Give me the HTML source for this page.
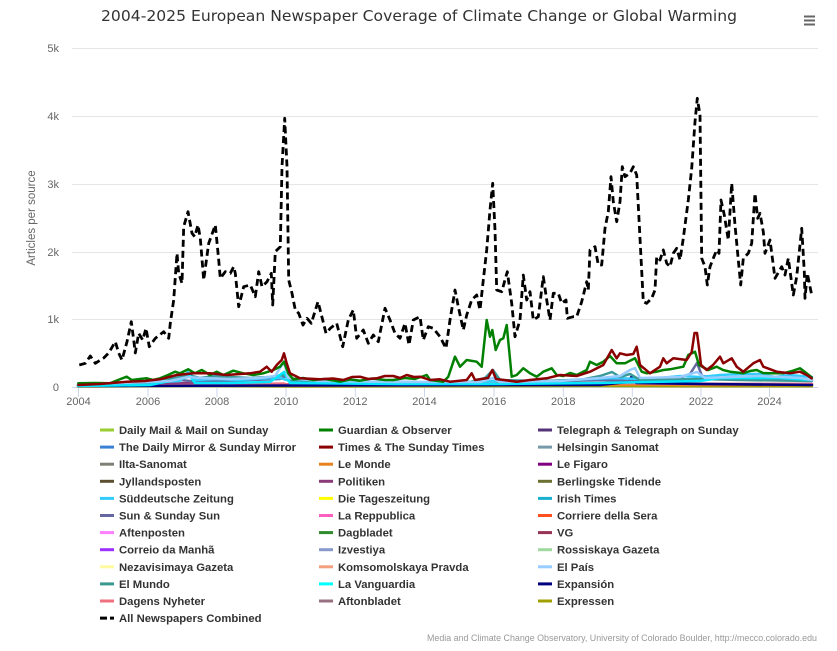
<!DOCTYPE html>
<html><head><meta charset="utf-8">
<style>
html,body{margin:0;padding:0;background:#fff;}
svg{display:block;}
.lg{font-family:"Liberation Sans",Arial,sans-serif;font-weight:bold;font-size:11.3px;fill:#333;}
.ax{font-family:"Liberation Sans",Arial,sans-serif;font-size:11px;fill:#666;}
</style></head>
<body>
<svg width="837" height="651" viewBox="0 0 837 651" xmlns="http://www.w3.org/2000/svg">
<rect width="837" height="651" fill="#fff"/>
<text x="101" y="21" textLength="636" lengthAdjust="spacingAndGlyphs" style="font-family:'DejaVu Sans','Liberation Sans',sans-serif;font-size:15px;fill:#333">2004-2025 European Newspaper Coverage of Climate Change or Global Warming</text>
<g fill="#666"><rect x="804" y="15.5" width="11" height="2"/><rect x="804" y="19.5" width="11" height="2"/><rect x="804" y="23.5" width="11" height="2"/></g>
<!-- grid -->
<g stroke="#e6e6e6" stroke-width="1">
<line x1="72" y1="48.5" x2="818" y2="48.5"/>
<line x1="72" y1="116.5" x2="818" y2="116.5"/>
<line x1="72" y1="184.5" x2="818" y2="184.5"/>
<line x1="72" y1="252.5" x2="818" y2="252.5"/>
<line x1="72" y1="319.5" x2="818" y2="319.5"/>
</g>
<g class="ax" text-anchor="end">
<text x="59" y="52">5k</text><text x="59" y="120">4k</text><text x="59" y="188">3k</text><text x="59" y="256">2k</text><text x="59" y="323">1k</text><text x="59" y="391">0</text>
</g>
<text class="ax" transform="translate(35,218) rotate(-90)" text-anchor="middle" style="font-size:11.5px">Articles per source</text>
<g stroke="#ccd6eb" stroke-width="1">
<line x1="72" y1="387.5" x2="818" y2="387.5"/>
<line x1="78.5" y1="387.5" x2="78.5" y2="397"/><line x1="148" y1="387.5" x2="148" y2="397"/><line x1="217" y1="387.5" x2="217" y2="397"/><line x1="286" y1="387.5" x2="286" y2="397"/><line x1="355.3" y1="387.5" x2="355.3" y2="397"/><line x1="424.5" y1="387.5" x2="424.5" y2="397"/><line x1="494" y1="387.5" x2="494" y2="397"/><line x1="563.3" y1="387.5" x2="563.3" y2="397"/><line x1="632.3" y1="387.5" x2="632.3" y2="397"/><line x1="701" y1="387.5" x2="701" y2="397"/><line x1="769.5" y1="387.5" x2="769.5" y2="397"/>
</g>
<g class="ax" text-anchor="middle">
<text x="78.5" y="405">2004</text><text x="148" y="405">2006</text><text x="217" y="405">2008</text><text x="286" y="405">2010</text><text x="355.3" y="405">2012</text><text x="424.5" y="405">2014</text><text x="494" y="405">2016</text><text x="563.3" y="405">2018</text><text x="632.3" y="405">2020</text><text x="701" y="405">2022</text><text x="769.5" y="405">2024</text>
</g>
<!-- minor series -->
<g fill="none" stroke-width="2.5" stroke-linejoin="round" stroke-linecap="round">
<polyline stroke="#a0a000" points="78,386.5 200,386 300,386.5 450,386.3 600,386 700,386.3 812,386.3"/>
<polyline stroke="#e8821e" points="78,386 150,385.5 200,385 260,384.5 300,385.5 420,385.5 500,385 600,384.5 700,385 812,385"/>
<polyline stroke="#8b3a7a" points="78,385.5 140,384.5 190,383 240,384 300,384.5 400,385 500,384 560,384 620,383 680,383.5 740,384 812,384"/>
<polyline stroke="#f07080" points="78,386 200,385 284,383.5 290,385.5 490,384 600,383 700,384 812,384"/>
<polyline stroke="#000080" points="78,386 300,385.5 600,385 628,382 632,376 636,383 700,384 812,385"/>
<polyline stroke="#6666a0" points="78,385 110,384 150,383 165,381 180,380 200,382 220,381 250,380 280,379 286,376 295,382 330,383 370,382 400,382 450,382.5 500,381 550,381.5 600,380 630,381 660,378 675,380 690,374 697,363 702,376 720,378 740,379 770,379.5 812,380"/>
<polyline stroke="#33ccff" points="78,385 130,384 160,382 180,381 188,372 196,380 215,379 240,380 260,378.5 280,378 290,381 330,382.5 400,382 450,382.5 500,381 540,381.5 590,379 615,378 640,379 660,378 680,376 700,377 720,375 740,374 760,374 775,377 790,375 812,377"/>
<polyline stroke="#3a9a9a" points="78,385 120,384 150,382 175,378 188,375 200,378 215,376 230,377 250,378 270,377 284,375 290,380 340,382 400,383 470,382 485,378 493,370 500,380 540,381 580,380 600,376 612,372 620,377 630,374 640,380 700,379 740,380 812,381"/>
<polyline stroke="#00e8ff" points="78,386 150,385 185,378 190,376 195,383 230,383 270,382 284,372 290,383 400,384 500,384 600,383 700,381 720,378 780,378 812,380"/>
<polyline stroke="#99ccff" points="78,384 120,383 170,381 188,377 200,378 230,379 260,378 275,376 284,362 288,378 320,381 400,382 480,382 493,378 500,382 560,381 600,378 620,376 630,370 635,368 640,378 680,377 697,372 705,378 760,376 800,378 812,380"/>
<polyline stroke="#008000" points="78.3,383.3 95,383 110,383.3 118,380 126.7,376.7 131.7,380 140,379 146.7,378.3 153,380 160,378.3 168,375 175,371.7 180,373.3 188.3,369.3 195,373.3 201.7,370 210,375 216.7,371.7 223.3,375 233.3,370.7 243.3,373.3 253.3,375 263.3,373.3 273.3,370 280,366.7 284,361.7 288.3,373.3 293.3,379.3 303,378 313.3,380 325,379 340,381.7 350,379.5 360,380.7 372,378.5 385,380 393.3,380 405,378 415,379 426.7,375 430,380 443.3,381.7 448.3,376.7 455,356.7 460,366.7 466.7,360 476.7,361.7 481.7,366.7 486.7,320 490,336.7 492.3,330 495.7,350 500,340 503.3,338.3 506.7,325 511.7,376.7 516.7,375 523.3,368.3 530,373.3 536.7,376.7 543.3,371.7 551.7,368.3 556.7,375 563.3,376 570,373 576.7,375 586.7,370 590,361.7 596.7,365 603.3,361.7 610,356 616.7,363.3 625,363.3 630,360.7 635,358.3 641.7,371.7 646.7,373.3 656.7,371.7 663.3,370 670,369.3 683.3,366.7 688.3,355 695,351.7 699,365 708.3,370 716.7,366.7 723,370 730,371.7 743.3,373.3 750,371 756.7,370 763,373 770,373.3 783.3,373.3 792,371 800,368.3 806.7,373.3 811.7,377.3"/>
<polyline stroke="#8b0000" points="78.3,385 100,384 126.7,381.7 145,381 160,379.3 176.7,375 193.3,373.3 210,373.3 226.7,375 240,374 250,373.3 260,371.7 266.7,366.7 271.7,371.7 276.7,365 281.7,360 284,353.3 286.7,363.3 290,373.3 300,378.3 320,379.3 333,378.5 343.3,380 352,377 360,376.7 368,379 376.7,378.3 385,376 393.3,376 400,378 406.7,375 414,377 420,376.7 430,380 440,379.3 450,381.7 466.7,380 471.7,373.3 475,380 488,378 492.3,370 496,379 516.7,381.7 530,380 546.7,378.3 560,375 576.7,376 590,371.7 603.3,365 611.7,350 616.7,358.3 620,353.3 626.7,355 633.3,354 636.7,346.7 640,365 650,373.3 660,366.7 663.3,358.3 666.7,363.3 673.3,358.3 686.7,360 691.7,352 694.5,333 697,333 699,348 701,365 706.7,370 713,365 720,356.7 723.3,363.3 731.7,358.3 736.7,366.7 743.3,371.7 753.3,363.3 760,360 763.3,366.7 776.7,371.7 790,373.3 800,371.7 806.7,375 811.7,378.3"/>
</g>
<!-- combined -->
<polyline fill="none" stroke="#000" stroke-width="2.8" stroke-dasharray="7,4" stroke-linejoin="round" points="79.3,365 85.3,363.3 90.3,356 95.3,363.3 103.7,358 108.7,353 115.3,341.7 118.7,353 122,360 127,341.7 131.3,321.7 133.7,340 135.3,353 138.7,333.3 142.7,340 146,328.3 149.3,346.7 155.3,338.3 163.7,331.7 168.7,338.3 170.3,323.3 173.7,300 177,253.3 178.7,273.3 182,283.3 183.7,226.7 188,211.7 192,233.3 194.7,236.7 198,225 200.3,238.3 203.7,280 208.7,243.3 215.3,225 218.7,260 220.3,278.3 225.3,271.7 230.3,273.3 233.7,266.7 235.3,273.3 238.7,306.7 243.7,286.7 250.3,285 255.3,296.7 258.7,271.7 262,286.7 267,281.7 271.3,273.3 272.7,305 275.3,251.7 280.3,246.7 282,166.7 284.7,118.3 287,166.7 288.7,280 292,293.3 295.3,310 298.7,313.3 303,325 307,318.3 311.3,323.3 318,301.7 322.7,320 326,333.3 330.3,328.3 336.7,323.3 342.7,346.7 348.3,320 353.3,310 356.7,338.3 363.3,330 368.3,343.3 373.3,335 378.3,341.7 385,308.3 390,320 395,333.3 400,338.3 405,323.3 409,345 413.3,320 420,316.7 423.3,340 428.3,326.7 433.3,328.3 440,336.7 446,348.3 450,320 455,290 458.3,306.7 463.3,330 466.7,315 471.7,300 476.7,295 480,310 483.3,280 486.7,250 490,210 492.7,183.3 495,230 496.7,290 501.7,291.7 507.3,271.7 511.7,303.3 515,336.7 520,320 523.3,275 526.7,300 530,291.7 533.3,320 538.3,316.7 543.3,276.7 546.7,300 550,320 553.3,293.3 558.3,293.3 561.7,303.3 566,300 567.3,318.3 573.3,316.7 576.7,316.7 581.7,301.7 586.7,281.7 588.3,290 590,250 595,246.7 598.3,265 601.7,265 605,228.3 608.3,211.7 611,176.7 613.3,201.7 616.7,221.7 620,201.7 622.3,166.7 625,176.7 630,173.3 633.3,166.7 636.7,175 640,238.3 643.3,301.7 646.7,303.3 651.7,298.3 655,290 656.7,256.7 660,260 663.3,250 666.7,263.3 670,266.7 673.3,253.3 676.7,248.3 680,260 683.3,238.3 688.3,200 691.7,168.3 695,121.7 697.3,98.3 700,115 701.7,258.3 705,266.7 707.3,285 710,266.7 713.3,258.3 716.7,250 719,253.3 721,200 724.3,215 728.3,240 731.7,183.3 735,225 738.3,260 740.7,285 743.3,258.3 748.3,253.3 751.7,243.3 755,193.3 757.7,218.3 760,213.3 763.3,231.7 765,253.3 770,240 775,278.3 781.7,266.7 785,275 788.3,258.3 793.3,295 796.7,276.7 801.7,228.3 804.3,271.7 805,298.3 807.3,273.3 811.7,295"/>
<!-- legend -->
<g stroke-width="3">
<line x1="100" y1="430" x2="114" y2="430" stroke="#9acd32"/>
<line x1="100" y1="447.1" x2="114" y2="447.1" stroke="#3b82d6"/>
<line x1="100" y1="464.2" x2="114" y2="464.2" stroke="#7f7f76"/>
<line x1="100" y1="481.3" x2="114" y2="481.3" stroke="#5c5030"/>
<line x1="100" y1="498.4" x2="114" y2="498.4" stroke="#33ccff"/>
<line x1="100" y1="515.5" x2="114" y2="515.5" stroke="#6666a0"/>
<line x1="100" y1="532.6" x2="114" y2="532.6" stroke="#ff80ff"/>
<line x1="100" y1="549.7" x2="114" y2="549.7" stroke="#9b30ff"/>
<line x1="100" y1="566.8" x2="114" y2="566.8" stroke="#fffaa0"/>
<line x1="100" y1="583.9" x2="114" y2="583.9" stroke="#3a9a90"/>
<line x1="100" y1="601" x2="114" y2="601" stroke="#f07080"/>
<line x1="100" y1="618.1" x2="114" y2="618.1" stroke="#000" stroke-dasharray="7,3"/>
<line x1="319" y1="430" x2="333" y2="430" stroke="#008000"/>
<line x1="319" y1="447.1" x2="333" y2="447.1" stroke="#8b0000"/>
<line x1="319" y1="464.2" x2="333" y2="464.2" stroke="#e8821e"/>
<line x1="319" y1="481.3" x2="333" y2="481.3" stroke="#8b3a7a"/>
<line x1="319" y1="498.4" x2="333" y2="498.4" stroke="#ffff00"/>
<line x1="319" y1="515.5" x2="333" y2="515.5" stroke="#ff60c0"/>
<line x1="319" y1="532.6" x2="333" y2="532.6" stroke="#2e8b2e"/>
<line x1="319" y1="549.7" x2="333" y2="549.7" stroke="#8899cc"/>
<line x1="319" y1="566.8" x2="333" y2="566.8" stroke="#f4a080"/>
<line x1="319" y1="583.9" x2="333" y2="583.9" stroke="#00ffff"/>
<line x1="319" y1="601" x2="333" y2="601" stroke="#997080"/>
<line x1="538" y1="430" x2="552" y2="430" stroke="#553377"/>
<line x1="538" y1="447.1" x2="552" y2="447.1" stroke="#7799aa"/>
<line x1="538" y1="464.2" x2="552" y2="464.2" stroke="#800080"/>
<line x1="538" y1="481.3" x2="552" y2="481.3" stroke="#6b7030"/>
<line x1="538" y1="498.4" x2="552" y2="498.4" stroke="#1ab0d0"/>
<line x1="538" y1="515.5" x2="552" y2="515.5" stroke="#ff5020"/>
<line x1="538" y1="532.6" x2="552" y2="532.6" stroke="#993355"/>
<line x1="538" y1="549.7" x2="552" y2="549.7" stroke="#a0d8a0"/>
<line x1="538" y1="566.8" x2="552" y2="566.8" stroke="#99ccff"/>
<line x1="538" y1="583.9" x2="552" y2="583.9" stroke="#000080"/>
<line x1="538" y1="601" x2="552" y2="601" stroke="#a0a000"/>
</g>
<g class="lg">
<text x="119" y="434">Daily Mail &amp; Mail on Sunday</text>
<text x="119" y="451.1">The Daily Mirror &amp; Sunday Mirror</text>
<text x="119" y="468.2">Ilta-Sanomat</text>
<text x="119" y="485.3">Jyllandsposten</text>
<text x="119" y="502.4">Süddeutsche Zeitung</text>
<text x="119" y="519.5">Sun &amp; Sunday Sun</text>
<text x="119" y="536.6">Aftenposten</text>
<text x="119" y="553.7">Correio da Manhã</text>
<text x="119" y="570.8">Nezavisimaya Gazeta</text>
<text x="119" y="587.9">El Mundo</text>
<text x="119" y="605">Dagens Nyheter</text>
<text x="119" y="622.1">All Newspapers Combined</text>
<text x="338" y="434">Guardian &amp; Observer</text>
<text x="338" y="451.1">Times &amp; The Sunday Times</text>
<text x="338" y="468.2">Le Monde</text>
<text x="338" y="485.3">Politiken</text>
<text x="338" y="502.4">Die Tageszeitung</text>
<text x="338" y="519.5">La Reppublica</text>
<text x="338" y="536.6">Dagbladet</text>
<text x="338" y="553.7">Izvestiya</text>
<text x="338" y="570.8">Komsomolskaya Pravda</text>
<text x="338" y="587.9">La Vanguardia</text>
<text x="338" y="605">Aftonbladet</text>
<text x="557" y="434">Telegraph &amp; Telegraph on Sunday</text>
<text x="557" y="451.1">Helsingin Sanomat</text>
<text x="557" y="468.2">Le Figaro</text>
<text x="557" y="485.3">Berlingske Tidende</text>
<text x="557" y="502.4">Irish Times</text>
<text x="557" y="519.5">Corriere della Sera</text>
<text x="557" y="536.6">VG</text>
<text x="557" y="553.7">Rossiskaya Gazeta</text>
<text x="557" y="570.8">El País</text>
<text x="557" y="587.9">Expansión</text>
<text x="557" y="605">Expressen</text>
</g>
<text x="817" y="641" text-anchor="end" textLength="390" lengthAdjust="spacingAndGlyphs" style="font-family:'Liberation Sans',Arial,sans-serif;font-size:9px;fill:#999">Media and Climate Change Observatory, University of Colorado Boulder, http://mecco.colorado.edu</text>
</svg>
</body></html>
